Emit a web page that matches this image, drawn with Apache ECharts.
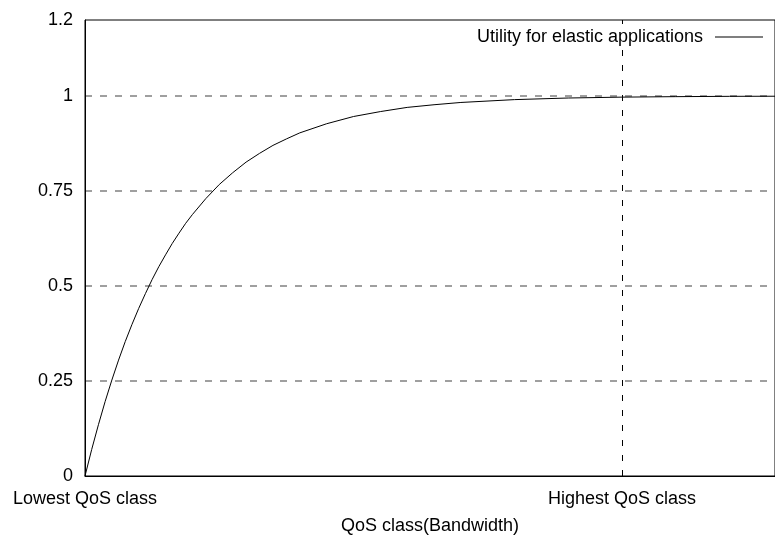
<!DOCTYPE html>
<html>
<head>
<meta charset="utf-8">
<script src="https://cdn.jsdelivr.net/npm/echarts@6/dist/echarts.min.js"></script>
<style>
  html, body { margin: 0; padding: 0; background: #fff; }
  #chart { width: 775px; height: 541px; }
</style>
</head>
<body>
<div id="chart"></div>
<script>
// Utility curve for elastic applications over the QoS class range
const qosLevel = [0, 0.0125, 0.025, 0.0375, 0.05, 0.0625, 0.075, 0.0875, 0.1, 0.1125, 0.125,
  0.1375, 0.15, 0.1625, 0.175, 0.1875, 0.2, 0.225, 0.25, 0.275, 0.3, 0.325, 0.35, 0.375, 0.4,
  0.45, 0.5, 0.55, 0.6, 0.65, 0.7, 0.8, 0.9, 1.0, 1.1, 1.2, 1.285];
const utility = [0, 0.070, 0.135, 0.196, 0.2525, 0.305, 0.354, 0.399, 0.441, 0.480, 0.517,
  0.551, 0.582, 0.612, 0.639, 0.665, 0.688, 0.730, 0.767, 0.798, 0.826, 0.849, 0.870, 0.887, 0.903,
  0.927, 0.946, 0.959, 0.970, 0.977, 0.983, 0.9905, 0.9947, 0.997, 0.9983, 0.9991, 0.9994];

// Named ticks on the QoS axis
const xTickValues = [0, 1];
const xTickNames = ['Lowest QoS class', 'Highest QoS class'];

const seriesName = 'Utility for elastic applications';
const xAxisTitle = 'QoS class(Bandwidth)';

const font = 'Liberation Sans, Arial, Helvetica, sans-serif';
const fontSize = 18;

const chart = echarts.init(document.getElementById('chart'), null, { renderer: 'canvas' });

chart.setOption({
  animation: false,
  backgroundColor: '#ffffff',
  grid: {
    left: 85, right: -1, top: 20, bottom: 65,
    show: true, borderColor: '#000', borderWidth: 1, backgroundColor: 'transparent'
  },
  legend: {
    show: true,
    orient: 'horizontal',
    left: 'auto', right: 7, top: 24, bottom: 'auto',
    padding: [4, 5, 4, 5],
    backgroundColor: '#ffffff',
    align: 'right',
    itemWidth: 48, itemHeight: 1,
    itemGap: 0,
    textStyle: { fontFamily: font, fontSize: fontSize, color: '#000', padding: [0, 7, 0, 0] },
    data: [{ name: seriesName, icon: 'rect', itemStyle: { color: '#000', borderWidth: 0 } }]
  },
  xAxis: {
    type: 'value',
    min: 0, max: 1.285, interval: 1,
    name: xAxisTitle,
    nameLocation: 'middle',
    nameGap: 41,
    nameTextStyle: { fontFamily: font, fontSize: fontSize, color: '#000' },
    axisLine: { show: true, onZero: false, lineStyle: { color: '#000', width: 1 } },
    axisTick: { show: false },
    axisLabel: {
      fontFamily: font, fontSize: fontSize, color: '#000', margin: 14,
      showMaxLabel: false,
      formatter: function (v) {
        const i = xTickValues.indexOf(v);
        return i >= 0 ? xTickNames[i] : '';
      }
    },
    splitLine: { show: true, lineStyle: { color: '#000', width: 1, type: [6, 9] } }
  },
  yAxis: {
    type: 'value',
    min: 0, max: 1.2, interval: 0.25,
    axisLine: { show: true, lineStyle: { color: '#000', width: 1 } },
    axisTick: { show: false },
    axisLabel: {
      fontFamily: font, fontSize: fontSize, color: '#000', margin: 12,
      showMaxLabel: true,
      formatter: function (v) { return String(+v.toFixed(2)); }
    },
    splitLine: { show: true, lineStyle: { color: '#808080', width: 1.5, type: [7, 8] } }
  },
  series: [{
    name: seriesName,
    type: 'line',
    data: qosLevel.map((x, i) => [x, utility[i]]),
    symbol: 'none',
    smooth: false,
    lineStyle: { color: '#000', width: 1 },
    itemStyle: { color: '#000' },
    z: 3
  }]
});
</script>
</body>
</html>
